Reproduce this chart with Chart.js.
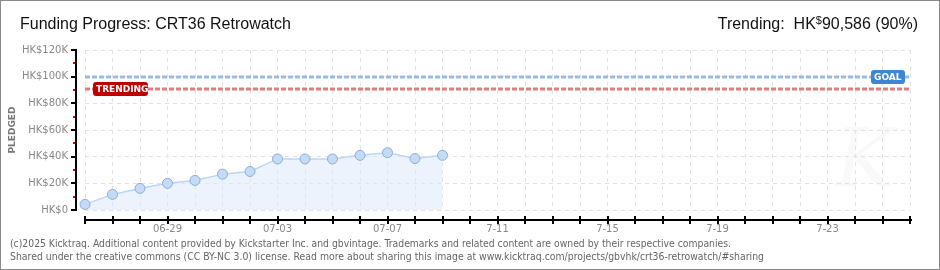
<!DOCTYPE html>
<html>
<head>
<meta charset="utf-8">
<script src="https://cdn.jsdelivr.net/npm/chart.js@4/dist/chart.umd.min.js"></script>
<style>
html,body{margin:0;padding:0;background:#fff;}
canvas{display:block;}
</style>
</head>
<body>
<canvas id="c" width="940" height="270"></canvas>
<script>
const categories = ['06-26','06-27','06-28','06-29','06-30','07-01','07-02','07-03','07-04','07-05','07-06','07-07','07-08','07-09','07-10','07-11','07-12','07-13','07-14','07-15','07-16','07-17','07-18','07-19','07-20','07-21','07-22','07-23','07-24','07-25','07-26'];
const tickLabels = ['','','','06-29','','','','07-03','','','','07-07','','','','7-11','','','','7-15','','','','7-19','','','','7-23','','',''];
const pledged = [4200, 11700, 16200, 20000, 22200, 26900, 28900, 38300, 38300, 38300, 41000, 43000, 38600, 41000];
const goal = 100000;
const trending = 90586;
const yTicks = [0, 20000, 40000, 60000, 80000, 100000, 120000];
const yMinorTicks = [10000, 30000, 50000, 70000, 90000, 110000];

const seriesData = categories.map((c, i) => i < pledged.length ? pledged[i] : null);

const decor = {
  id: 'decor',
  beforeDraw(chart) {
    const ctx = chart.ctx;
    ctx.save();
    ctx.fillStyle = '#fff';
    ctx.fillRect(0, 0, chart.width, chart.height);
    ctx.fillStyle = 'rgba(0,0,0,0.025)';
    ctx.font = 'italic 80px "DejaVu Serif"';
    ctx.textAlign = 'center';
    ctx.textBaseline = 'middle';
    ctx.fillText('K', 865, 165);
    ctx.restore();
  },
  afterDraw(chart) {
    const ctx = chart.ctx;
    const y = chart.scales.y;
    const x = chart.scales.x;
    const a = chart.chartArea;
    ctx.save();
    ctx.setLineDash([]);
    const gy = Math.round(y.getPixelForValue(goal));
    const ty = Math.round(y.getPixelForValue(trending));
    ctx.lineWidth = 3;
    ctx.setLineDash([5, 2]);
    ctx.strokeStyle = 'rgba(130,172,222,0.8)';
    ctx.beginPath(); ctx.moveTo(a.left, gy); ctx.lineTo(a.right, gy); ctx.stroke();
    ctx.strokeStyle = 'rgba(222,90,90,0.8)';
    ctx.beginPath(); ctx.moveTo(a.left, ty); ctx.lineTo(a.right, ty); ctx.stroke();
    ctx.setLineDash([]);
    function tag(text, x0, yc, w, color) {
      ctx.fillStyle = color;
      const h = 14;
      ctx.beginPath();
      ctx.roundRect(x0, yc - h / 2, w, h, 3);
      ctx.fill();
      ctx.fillStyle = '#fff';
      ctx.font = 'bold 9px "DejaVu Sans"';
      ctx.textAlign = 'left';
      ctx.textBaseline = 'middle';
      ctx.fillText(text, x0 + 3, yc + 0.5);
    }
    tag('TRENDING', 93, ty, 55, '#c00000');
    tag('GOAL', 871, gy, 34, '#3d86d6');

    const ax = Math.round(a.left) - 9;
    const top = Math.round(a.top), bot = Math.round(a.bottom);
    ctx.fillStyle = '#000000';
    ctx.fillRect(ax - 1, top, 2, bot - top + 1);
    yTicks.forEach(v => {
      const py = Math.round(y.getPixelForValue(v));
      ctx.fillRect(ax - 5, py - 1, 6, 2);
    });
    ctx.fillStyle = '#e00000';
    yMinorTicks.forEach(v => {
      const py = Math.round(y.getPixelForValue(v));
      ctx.fillRect(ax - 3, py - 1, 2, 2);
    });
    const bx = bot + 10;
    ctx.fillStyle = '#000';
    ctx.fillRect(Math.round(a.left), bx - 1, Math.round(a.right - a.left) + 2, 2);
    categories.forEach((c, i) => {
      const px = Math.round(x.getPixelForValue(i));
      ctx.fillRect(px - 1, bx - 4, 2, 8);
    });

    ctx.fillStyle = '#111';
    ctx.font = '16px "Liberation Sans"';
    ctx.textAlign = 'left';
    ctx.textBaseline = 'alphabetic';
    ctx.fillText('Funding Progress: CRT36 Retrowatch', 20, 29);
    const p1 = 'Trending:  HK', p2 = '$', p3 = '90,586 (90%)';
    const w1 = ctx.measureText(p1).width, w3 = ctx.measureText(p3).width;
    ctx.font = '11px "Liberation Sans"';
    const w2 = ctx.measureText(p2).width;
    const sx = 918 - (w1 + w2 + w3);
    ctx.font = '16px "Liberation Sans"';
    ctx.fillText(p1, sx, 29);
    ctx.font = '11px "Liberation Sans"';
    ctx.fillText(p2, sx + w1, 24);
    ctx.font = '16px "Liberation Sans"';
    ctx.fillText(p3, sx + w1 + w2, 29);
    ctx.fillStyle = '#666';
    ctx.font = '10px "DejaVu Sans"';
    const f1 = '(c)2025 Kicktraq. Additional content provided by Kickstarter Inc. and gbvintage. Trademarks and related content are owned by their respective companies.';
    const f2 = 'Shared under the creative commons (CC BY-NC 3.0) license. Read more about sharing this image at www.kicktraq.com/projects/gbvhk/crt36-retrowatch/#sharing';
    function fitText(t, x0, yb, w) {
      const mw = ctx.measureText(t).width;
      ctx.save();
      ctx.translate(x0, yb);
      ctx.scale(w / mw, 1);
      ctx.fillText(t, 0, 0);
      ctx.restore();
    }
    fitText(f1, 10, 247, 721);
    fitText(f2, 10, 260, 754);
    ctx.strokeStyle = '#8a8a8a';
    ctx.lineWidth = 2;
    ctx.strokeRect(0, 0, 940, 270);
    ctx.restore();
  }
};

new Chart(document.getElementById('c'), {
  type: 'line',
  data: {
    labels: categories,
    datasets: [{
      data: seriesData,
      borderColor: '#bcd6f2',
      borderWidth: 1.5,
      backgroundColor: 'rgba(221,234,250,0.55)',
      fill: 'origin',
      tension: 0,
      pointRadius: 5,
      pointBackgroundColor: '#c3dbf6',
      pointBorderColor: '#8eaed6',
      pointBorderWidth: 1,
      spanGaps: false
    }]
  },
  options: {
    responsive: false,
    animation: false,
    devicePixelRatio: 1,
    layout: { padding: { top: 50, right: 30, left: 0, bottom: 0 } },
    plugins: { legend: { display: false }, tooltip: { enabled: false }, title: { display: false } },
    scales: {
      x: {
        type: 'category',
        offset: false,
        grid: { color: '#e3e3e3', drawTicks: false, lineWidth: 1 },
        border: { display: false, dash: [4, 4] },
        ticks: {
          autoSkip: false, maxRotation: 0, padding: 13,
          color: '#888', font: { family: 'DejaVu Sans', size: 10 },
          callback: (v, i) => tickLabels[i]
        },
        afterFit(s) { s.height = 60; }
      },
      y: {
        min: 0, max: 120000,
        grid: { color: '#e3e3e3', drawTicks: false, lineWidth: 1 },
        border: { display: false, dash: [4, 4] },
        ticks: {
          stepSize: 20000, padding: 17,
          color: '#888', font: { family: 'DejaVu Sans', size: 10 },
          callback: v => v === 0 ? 'HK$0' : 'HK$' + (v / 1000) + 'K'
        },
        title: { display: true, text: 'PLEDGED', color: '#777', font: { family: 'DejaVu Sans', size: 9, weight: 'bold' }, padding: { top: 7, bottom: 0 } },
        afterFit(s) { s.width = 85; }
      }
    }
  },
  plugins: [decor]
});
</script>
</body>
</html>
